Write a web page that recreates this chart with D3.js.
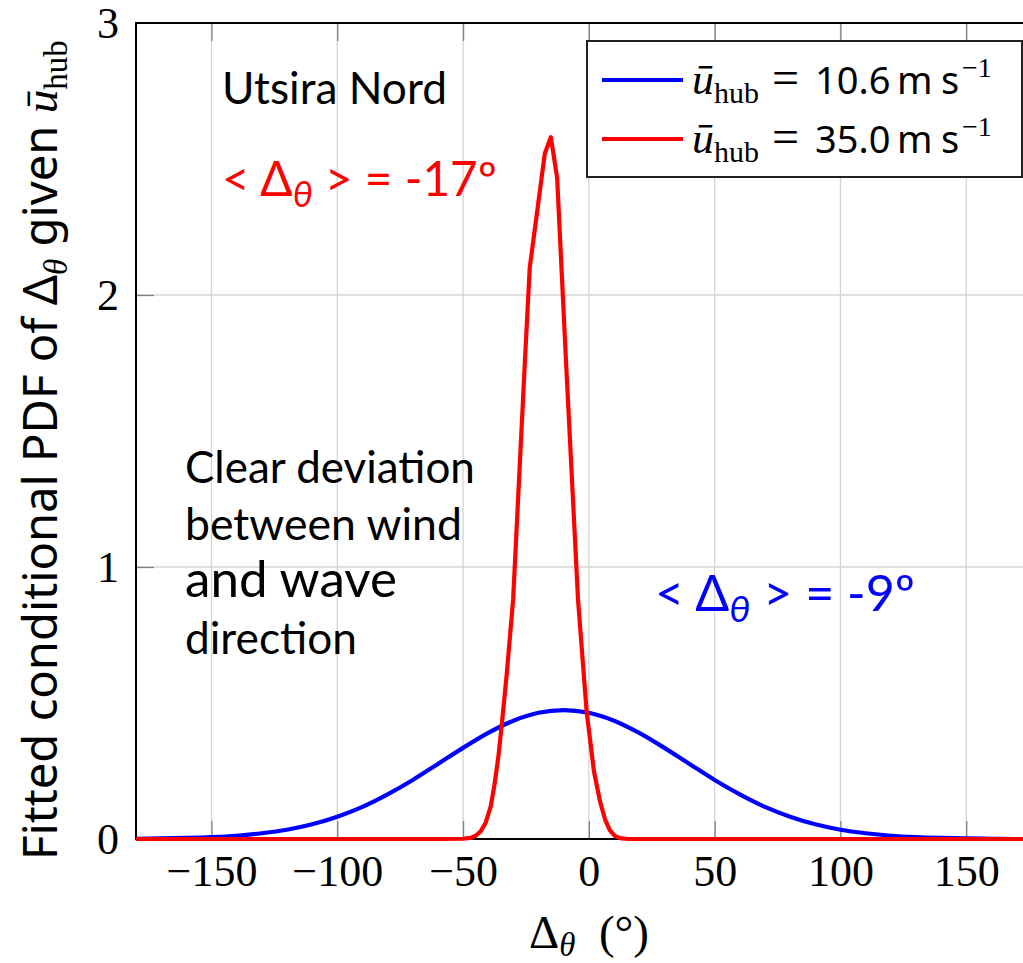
<!doctype html>
<html>
<head>
<meta charset="utf-8">
<style>
    body { margin: 0; background: #fff; }
    .serif { font-family: "Liberation Serif", "DejaVu Serif", serif; }
    .sans { font-family: "Noto Sans", "DejaVu Sans", sans-serif; }
    .calib { font-family: Lato, "Open Sans", sans-serif; }
    .grid line { stroke: #d4d4d4; stroke-width: 1.3; }
</style>
<script src="https://d3js.org/d3.v7.min.js"></script>
</head>
<body>
<svg width="1023" height="963" id="chart"></svg>
<script>
// tick labels
var xTicks = [-150, -100, -50, 0, 50, 100, 150];
var yTicks = [0, 1, 2, 3];

// u_hub = 10.6 m/s (blue), every 10 deg
var blueAngles = [-180, -170, -160, -150, -140, -130, -120, -110, -100, -90, -80, -70, -60, -50, -40, -30, -20, -10,
                  0, 10, 20, 30, 40, 50, 60, 70, 80, 90, 100, 110, 120, 130, 140, 150, 160, 170, 180];
var blueValues = [0.001, 0.002, 0.004, 0.007, 0.012, 0.021, 0.034, 0.054, 0.082, 0.118, 0.164, 0.217, 0.276, 0.335, 0.390, 0.435, 0.464, 0.474,
                  0.464, 0.435, 0.390, 0.335, 0.276, 0.217, 0.164, 0.118, 0.082, 0.054, 0.034, 0.021, 0.012, 0.007, 0.004, 0.002, 0.001, 0.000, 0.000];

// u_hub = 35.0 m/s (red)
var redAngles = [-180, -60, -50, -47, -45, -43, -41, -39, -37.5, -36, -34.5, -32.7, -30.1, -25.4, -23.5, -17.5, -15.1, -12.6,
                 -9.1, -4.3, -0.9, 2, 4.4, 6.5, 8.3, 10.5, 13, 16, 180];
var redValues = [0, 0, 0.001, 0.004, 0.012, 0.028, 0.06, 0.12, 0.2, 0.3, 0.43, 0.6, 0.88, 1.76, 2.1, 2.52, 2.58, 2.43,
                 1.76, 0.88, 0.47, 0.25, 0.14, 0.07, 0.033, 0.01, 0.002, 0, 0];

var svg = d3.select("#chart");

var x = d3.scaleLinear().domain([-180, 180]).range([136, 1041.7]);
var y = d3.scaleLinear().domain([0, 3]).range([839, 23]);

// grid
var grid = svg.append("g").attr("class", "grid");
grid.selectAll(".gx").data(xTicks).enter().append("line")
    .attr("x1", function(d) { return x(d); }).attr("x2", function(d) { return x(d); })
    .attr("y1", y(0)).attr("y2", y(3));
grid.selectAll(".gy").data([1, 2]).enter().append("line")
    .attr("x1", x(-180)).attr("x2", x(180))
    .attr("y1", function(d) { return y(d); }).attr("y2", function(d) { return y(d); });

// inward tick marks
function tickStyle(g) {
    g.select(".domain").remove();
    g.selectAll(".tick line").attr("stroke", "#808080").attr("stroke-width", 1.3);
}
svg.append("g").attr("transform", "translate(0," + y(0) + ")")
    .call(d3.axisBottom(x).tickValues(xTicks).tickSize(-18).tickFormat(""))
    .call(tickStyle);
svg.append("g").attr("transform", "translate(0," + y(3) + ")")
    .call(d3.axisTop(x).tickValues(xTicks).tickSize(-18).tickFormat(""))
    .call(tickStyle);
svg.append("g").attr("transform", "translate(" + x(-180) + ",0)")
    .call(d3.axisLeft(y).tickValues([1, 2]).tickSize(-18).tickFormat(""))
    .call(tickStyle);

// tick labels
var xa = svg.append("g").attr("transform", "translate(0," + y(0) + ")")
    .call(d3.axisBottom(x).tickValues(xTicks).tickSize(0));
xa.select(".domain").remove();
xa.selectAll("text").attr("class", "serif").attr("font-size", 44).attr("fill", "#000")
    .attr("y", 47).attr("dy", null);

var ya = svg.append("g").attr("transform", "translate(" + x(-180) + ",0)")
    .call(d3.axisLeft(y).tickValues(yTicks).tickSize(0).tickPadding(17).tickFormat(d3.format("d")));
ya.select(".domain").remove();
ya.selectAll("text").attr("class", "serif").attr("font-size", 44).attr("fill", "#000").attr("dy", "0.34em");

// frame
svg.append("rect")
    .attr("x", x(-180)).attr("y", y(3))
    .attr("width", x(180) - x(-180)).attr("height", y(0) - y(3))
    .attr("fill", "none").attr("stroke", "#000").attr("stroke-width", 2);

// curves
var blue = blueAngles.map(function(a, i) { return [a, blueValues[i]]; });
var red = redAngles.map(function(a, i) { return [a, redValues[i]]; });

var lineSmooth = d3.line().x(function(d) { return x(d[0]); }).y(function(d) { return y(d[1]); }).curve(d3.curveMonotoneX);
var lineStraight = d3.line().x(function(d) { return x(d[0]); }).y(function(d) { return y(d[1]); });

svg.append("path").datum(blue).attr("d", lineSmooth)
    .attr("fill", "none").attr("stroke", "#0000ff").attr("stroke-width", 4.2);
svg.append("path").datum(red).attr("d", lineStraight)
    .attr("fill", "none").attr("stroke", "#ff0000").attr("stroke-width", 4.2).attr("stroke-linejoin", "round");

// legend
var legend = svg.append("g");
legend.append("rect").attr("x", 587).attr("y", 41).attr("width", 435).attr("height", 136)
    .attr("fill", "#fff").attr("stroke", "#222").attr("stroke-width", 2);

var legendRows = [
    { color: "#0000ff", value: "10.6", base: 94 },
    { color: "#ff0000", value: "35.0", base: 153 }
];
legendRows.forEach(function(r) {
    legend.append("line").attr("x1", 602).attr("x2", 683)
        .attr("y1", r.base - 14).attr("y2", r.base - 14)
        .attr("stroke", r.color).attr("stroke-width", 4.2);
    var t = legend.append("text").attr("class", "serif").attr("font-size", 44).attr("x", 692).attr("y", r.base);
    t.append("tspan").attr("font-style", "italic").text("\u016B");
    t.append("tspan").attr("font-size", 30).attr("dy", 9).text("hub");
    legend.append("text").attr("class", "serif").attr("font-size", 48).attr("x", 772).attr("y", r.base).text("=");
    legend.append("text").attr("class", "sans").attr("font-size", 38).attr("x", 815).attr("y", r.base).text(r.value);
    legend.append("text").attr("class", "sans").attr("font-size", 38).attr("x", 897).attr("y", r.base).text("m");
    legend.append("text").attr("class", "sans").attr("font-size", 38).attr("x", 941).attr("y", r.base).text("s");
    legend.append("text").attr("class", "serif").attr("font-size", 28).attr("x", 962).attr("y", r.base - 17).text("\u22121");
});

function fitWidth(t, w) {
    var b = t.node().getBBox().width;
    var fs = parseFloat(t.attr("font-size"));
    t.attr("font-size", fs * w / b);
}

// axis labels
var xl = svg.append("text").attr("class", "serif").attr("font-size", 47)
    .attr("x", 589).attr("y", 948).attr("text-anchor", "middle");
xl.append("tspan").text("\u0394");
xl.append("tspan").attr("font-style", "italic").style("font-size", "70%").attr("dy", 8).text("\u03B8");
xl.append("tspan").attr("dy", -8).text("\u2002(\u00B0)");

var yl = svg.append("text").attr("class", "sans").attr("font-size", 40)
    .attr("transform", "translate(57,860) rotate(-90)");
yl.append("tspan").text("Fitted conditional PDF of \u0394");
yl.append("tspan").attr("class", "serif").attr("font-style", "italic").style("font-size", "70%").attr("dy", "0.3em").text("\u03B8");
yl.append("tspan").attr("dy", "-0.21em").text(" given ");
yl.append("tspan").attr("class", "serif").attr("font-style", "italic").text("\u016B");
yl.append("tspan").attr("class", "serif").style("font-size", "70%").attr("dy", "0.3em").text("hub");
fitWidth(yl, 820);

// annotations
var a1 = svg.append("text").attr("class", "calib").attr("font-size", 44).attr("x", 222).attr("y", 104).text("Utsira Nord");
fitWidth(a1, 225);

function meanLabel(px, py, color, txt, w) {
    var t = svg.append("text").attr("class", "calib").attr("font-size", 44)
        .attr("x", px).attr("y", py).attr("fill", color);
    t.append("tspan").text("< \u0394");
    t.append("tspan").attr("font-style", "italic").style("font-size", "75%").attr("dy", "0.3em").text("\u03B8");
    t.append("tspan").attr("dy", "-0.22em").text(" >  " + txt);
    fitWidth(t, w);
}
meanLabel(222, 196, "#ff0000", "= -17\u00BA", 275);
meanLabel(655, 611, "#0000ff", "= -9\u00BA", 260);

var noteLines = ["Clear deviation", "between wind", "and wave", "direction"];
var noteWidths = [290, 277, 212, 172];
noteLines.forEach(function(s, i) {
    var t = svg.append("text").attr("class", "calib").attr("font-size", 44)
        .attr("x", 185).attr("y", 483 + i * 57).text(s);
    fitWidth(t, noteWidths[i]);
});
</script>
</body>
</html>
